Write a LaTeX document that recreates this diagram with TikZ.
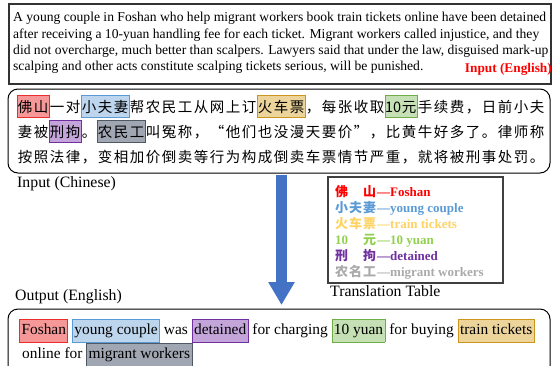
\documentclass[tikz,border=0pt]{standalone}
\usepackage{fontspec}
\setmainfont{Liberation Serif}
\newfontfamily\cjk{Noto Sans CJK SC}
\usetikzlibrary{arrows.meta}
\definecolor{redF}{RGB}{246,152,152}\definecolor{redD}{RGB}{235,45,45}
\definecolor{bluF}{RGB}{189,214,238}\definecolor{bluD}{RGB}{91,155,213}
\definecolor{golF}{RGB}{236,212,155}\definecolor{golD}{RGB}{204,150,30}
\definecolor{grnF}{RGB}{197,224,180}\definecolor{grnD}{RGB}{112,173,71}
\definecolor{purF}{RGB}{195,165,218}\definecolor{purD}{RGB}{112,48,160}
\definecolor{gryF}{RGB}{160,166,178}\definecolor{gryD}{RGB}{80,88,100}
\definecolor{tRed}{RGB}{255,0,0}\definecolor{tBlue}{RGB}{91,155,213}
\definecolor{tGold}{RGB}{255,210,100}\definecolor{tGreen}{RGB}{146,208,80}
\definecolor{tPurple}{RGB}{112,48,160}\definecolor{tGray}{RGB}{170,170,170}
\definecolor{arrowBlue}{RGB}{68,114,196}
\def\gridend{gridend-marker}
\newcommand\cjgrid[2]{\def\gridw{#1}\gridaux#2\gridend}
\def\gridaux#1{\ifx\gridend#1\else\makebox[\gridw][c]{#1}\expandafter\gridaux\fi}
\newcommand\tcell[1]{\makebox[14pt][l]{#1}}
\newcommand\hlbox[3]{{\setlength{\fboxsep}{1.5pt}\setlength{\fboxrule}{0.8pt}\fcolorbox{#1}{#2}{\strut #3}}}
\begin{document}
\begin{tikzpicture}[x=1pt,y=-1pt,
  frame/.style={draw=black!80,line width=1.2pt},
  rframe/.style={draw=black,line width=1pt,rounded corners=10pt},
  engtxt/.style={anchor=base west,inner sep=0,font=\fontsize{13.6}{16}\selectfont},
  cntxt/.style={anchor=base west,inner sep=0,font=\cjk\fontsize{14.5}{16}\selectfont},
  lbl/.style={anchor=base west,inner sep=0,font=\fontsize{15.8}{18}\selectfont},
  tbl/.style={anchor=base west,inner sep=0,font=\fontsize{13}{15}\selectfont\bfseries},
  outtxt/.style={anchor=base west,inner sep=0,font=\fontsize{15.4}{19}\selectfont},
  hl/.style 2 args={fill=#1,draw=#2,line width=0.8pt}]
\useasboundingbox (0,0) rectangle (552,365);
% top box
\draw[frame] (9,4) rectangle (551,84);
\node[engtxt] (e1) at (13,21) {A young couple in Foshan who help migrant workers book train tickets online have been detained};
\node[engtxt] (e2) at (13,38) {after receiving a 10-yuan handling fee for each ticket. Migrant workers called injustice, and they};
\node[engtxt] (e3) at (13,54.5) {did not overcharge, much better than scalpers. Lawyers said that under the law, disguised mark-up};
\node[engtxt] (e4) at (13,70.5) {scalping and other acts constitute scalping tickets serious, will be punished.};
\node[anchor=base east,inner sep=0,font=\fontsize{13.3}{15}\selectfont\bfseries,text=tRed] (inEn) at (552,72.5) {Input (English)};
% chinese box
\draw[rframe] (8,89) rectangle (550,173);
\draw[hl={redF}{redD}] (17,95) rectangle (49,117.5);
\draw[hl={bluF}{bluD}] (81,95) rectangle (129,117.5);
\draw[hl={golF}{golD}] (257,95) rectangle (305,117.5);
\draw[hl={grnF}{grnD}] (385,95) rectangle (417,117.5);
\draw[hl={purF}{purD}] (49,120) rectangle (81,142.5);
\draw[hl={gryF}{gryD}] (97,120) rectangle (145,142.5);
\node[cntxt] (c1) at (17,112) {\cjgrid{16pt}{佛山一对小夫妻帮农民工从网上订火车票，每张收取{10}元手续费，日前小夫}};
\node[cntxt] (c2) at (17,137) {\cjgrid{16pt}{妻被刑拘。农民工叫冤称，“他们也没漫天要价”，比黄牛好多了。律师称}};
\node[cntxt] (c3) at (17,162) {\cjgrid{16pt}{按照法律，变相加价倒卖等行为构成倒卖车票情节严重，就将被刑事处罚。}};
\node[lbl] (inCn) at (17,187) {Input (Chinese)};
% arrow
\coordinate (aS) at (281.5,175);
\coordinate (aE) at (281.5,305);
\draw[arrowBlue,line width=11pt,-{Triangle[width=25pt,length=23pt]}] (aS) -- (aE);
% translation table
\draw[draw=black!75,line width=1.1pt] (328,177) rectangle (503,283);
\node[tbl,text=tRed] (t1) at (335,196) {{\cjk\tcell{佛}\tcell{}\tcell{山}}—Foshan};
\node[tbl,text=tBlue] (t2) at (335,212) {{\cjk\tcell{小}\tcell{夫}\tcell{妻}}—young couple};
\node[tbl,text=tGold] (t3) at (335,228) {{\cjk\tcell{火}\tcell{车}\tcell{票}}—train tickets};
\node[tbl,text=tGreen] (t4) at (335,244) {\tcell{10}\tcell{}{\cjk\tcell{元}}—10 yuan};
\node[tbl,text=tPurple] (t5) at (335,260) {{\cjk\tcell{刑}\tcell{}\tcell{拘}}—detained};
\node[tbl,text=tGray] (t6) at (335,276) {{\cjk\tcell{农}\tcell{名}\tcell{工}}—migrant workers};
\node[lbl] (tt) at (330,296.5) {Translation Table};
% output
\node[lbl] (outLbl) at (15,300.5) {Output (English)};
\draw[rframe] (8,309) rectangle (550,385);
\node[outtxt] (o1) at (19,334.5) {\hlbox{redD}{redF}{Foshan} \hlbox{bluD}{bluF}{young couple} was \hlbox{purD}{purF}{detained} for charging \hlbox{grnD}{grnF}{10 yuan} for buying \hlbox{golD}{golF}{train tickets}};
\node[outtxt] (o2) at (22,358.5) {online for \hlbox{gryD}{gryF}{migrant workers}};
\end{tikzpicture}
\end{document}
